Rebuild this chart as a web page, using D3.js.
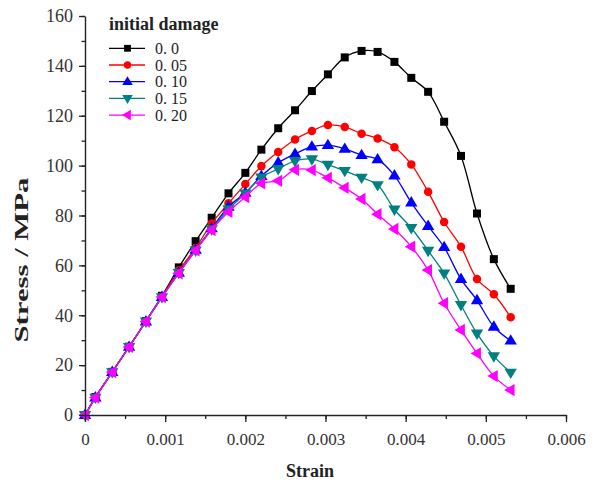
<!DOCTYPE html>
<html>
<head>
<meta charset="utf-8">
<script src="https://cdn.jsdelivr.net/npm/d3@7"></script>
<style>
  body { margin: 0; background: #fff; }
  svg text { font-family: "Liberation Serif", "DejaVu Serif", serif !important; fill: #222; }
</style>
</head>
<body>
<div id="chart"></div>
<script>
// strain values (same for every curve)
var strain = [0, 0.00013, 0.00034, 0.00055, 0.00076, 0.00096, 0.00117, 0.00138, 0.00158,
  0.00179, 0.00200, 0.00220, 0.00241, 0.00262, 0.00283, 0.00303, 0.00324, 0.00345,
  0.00365, 0.00386, 0.00407, 0.00428, 0.00448, 0.00469, 0.00489, 0.00510, 0.00531];

var damage0 = [0, 7.2, 17.3, 27.4, 37.7, 47.8, 59.2, 69.7, 79.1, 88.9, 97.1, 106.4, 115, 122.2,
  129.9, 136.6, 143.4, 146, 145.6, 141.6, 135.2, 129.6, 117.6, 103.9, 80.8, 62.5, 50.6];
var damage05 = [0, 7, 17.2, 27.3, 37.6, 47.5, 58, 67, 76.8, 84.9, 92.6, 99.8, 105.5, 110.5,
  113.9, 116.3, 115.5, 112.8, 110.9, 107.4, 100.5, 89.5, 77.4, 67.5, 54.5, 48.4, 39.2];
var damage10 = [0, 7, 17.2, 27.3, 37.5, 47.3, 57, 66.2, 74.8, 83.5, 89.1, 95.8, 101.2, 104.7,
  107.6, 108.2, 106.7, 104.2, 102.5, 96, 85.2, 75.8, 67.3, 54.5, 46, 35.4, 29.8];
var damage15 = [0, 7, 17.2, 27.3, 37.5, 47.3, 57, 66, 74.5, 82.5, 88.9, 95.3, 98.7, 101.9,
  102.6, 100.4, 97.9, 95.2, 92.2, 82.4, 75, 65.9, 56.8, 44.1, 32.7, 23.6, 17];
var damage20 = [0, 7, 17.2, 27.3, 37.5, 47.3, 56.8, 66, 74.2, 81.5, 87.4, 92.9, 93.9, 98.3,
  98.2, 95.1, 91.1, 86.6, 80.5, 74.6, 67.5, 58.1, 44.8, 34.1, 24.7, 15.6, 10];

var seriesNames = ["0. 0", "0. 05", "0. 10", "0. 15", "0. 20"];
var seriesValues = [damage0, damage05, damage10, damage15, damage20];
var seriesColors = ["#000000", "#ff0000", "#0000ff", "#008080", "#ff00ff"];
var seriesSymbols = ["square", "circle", "triUp", "triDown", "triLeft"];

var xTicks = [0, 0.001, 0.002, 0.003, 0.004, 0.005, 0.006];
var xTickLabels = ["0", "0.001", "0.002", "0.003", "0.004", "0.005", "0.006"];
var yTicks = [0, 20, 40, 60, 80, 100, 120, 140, 160];

var serif = "Liberation Serif";
var margin = {top: 16, left: 85},
    width = 481,
    height = 399;

var svg = d3.select("#chart").append("svg")
    .attr("width", 598)
    .attr("height", 482);

var g = svg.append("g")
    .attr("transform", "translate(" + margin.left + "," + margin.top + ")");

var x = d3.scaleLinear().domain([0, 0.006]).range([0, width]);
var y = d3.scaleLinear().domain([0, 160]).range([height, 0]);

// marker shapes
function symbolPath(type, s) {
  if (type == "square") return d3.symbol(d3.symbolSquare, s * s)();
  if (type == "circle") return d3.symbol(d3.symbolCircle, Math.PI * s * s / 4)();
  var r = s * 0.62;
  var pts;
  if (type == "triUp") pts = [[0, -r], [r * 0.95, r * 0.6], [-r * 0.95, r * 0.6]];
  if (type == "triDown") pts = [[0, r], [r * 0.95, -r * 0.6], [-r * 0.95, -r * 0.6]];
  if (type == "triLeft") pts = [[-r, 0], [r * 0.6, -r * 0.95], [r * 0.6, r * 0.95]];
  return "M" + pts.map(function(p) { return p.join(","); }).join("L") + "Z";
}
var symbolSize = {square: 8, circle: 8.5, triUp: 10.5, triDown: 10.5, triLeft: 10.5};

// curves
var line = d3.line()
    .x(function(d) { return x(d[0]); })
    .y(function(d) { return y(d[1]); })
    .curve(d3.curveCatmullRom.alpha(0.5));

seriesValues.forEach(function(vals, i) {
  var pts = strain.map(function(s, j) { return [s, vals[j]]; });
  g.append("path")
    .attr("d", line(pts))
    .attr("fill", "none")
    .attr("stroke", seriesColors[i])
    .attr("stroke-width", 1.3);
  g.selectAll(".m" + i)
    .data(pts)
    .enter().append("path")
    .attr("class", "m" + i)
    .attr("transform", function(d) { return "translate(" + x(d[0]) + "," + y(d[1]) + ")"; })
    .attr("d", symbolPath(seriesSymbols[i], symbolSize[seriesSymbols[i]]))
    .attr("fill", seriesColors[i]);
});

// x axis with minor ticks
var xMinor = d3.range(0, 0.00601, 0.0005);
g.append("g")
  .attr("transform", "translate(0," + height + ")")
  .call(d3.axisBottom(x).tickValues(xMinor).tickSize(4).tickFormat(""))
  .call(function(a) { a.select(".domain").remove(); })
  .selectAll("line").attr("stroke", "#222").attr("stroke-width", 1.3);

var xAxis = g.append("g")
  .attr("transform", "translate(0," + height + ")")
  .attr("font-family", serif)
  .call(d3.axisBottom(x).tickValues(xTicks).tickSizeInner(7).tickSizeOuter(0)
    .tickFormat(function(d, i) { return xTickLabels[i]; }));
xAxis.attr("font-family", serif).attr("font-size", 17);
xAxis.select(".domain").attr("stroke", "#222").attr("stroke-width", 1.4);
xAxis.selectAll("line").attr("stroke", "#222").attr("stroke-width", 1.3);
xAxis.selectAll("text").attr("dy", "0").attr("y", 30)
  .style("font-family", serif).style("font-size", "17px").style("fill", "#333");

// y axis with minor ticks
var yMinor = d3.range(0, 161, 10);
g.append("g")
  .call(d3.axisLeft(y).tickValues(yMinor).tickSize(3.5).tickFormat(""))
  .call(function(a) { a.select(".domain").remove(); })
  .selectAll("line").attr("stroke", "#222").attr("stroke-width", 1.3);

var yAxis = g.append("g")
  .call(d3.axisLeft(y).tickValues(yTicks).tickSizeInner(6).tickSizeOuter(0).tickPadding(6));
yAxis.attr("font-family", serif).attr("font-size", 18);
yAxis.select(".domain").attr("stroke", "#222").attr("stroke-width", 1.4);
yAxis.selectAll("line").attr("stroke", "#222").attr("stroke-width", 1.3);
yAxis.selectAll("text")
  .style("font-family", serif).style("font-size", "18px").style("fill", "#333");

// axis titles
svg.append("text")
  .attr("x", 310).attr("y", 477)
  .attr("text-anchor", "middle")
  .attr("font-size", "18px").attr("font-weight", "bold")
  .text("Strain");

svg.append("text")
  .attr("transform", "translate(28,260) rotate(-90)")
  .attr("text-anchor", "middle")
  .attr("font-size", "19px").attr("font-weight", "bold")
  .attr("textLength", 165).attr("lengthAdjust", "spacingAndGlyphs")
  .text("Stress / MPa");

// legend
var legend = svg.append("g").attr("transform", "translate(109,0)");
legend.append("text")
  .attr("x", 0).attr("y", 30)
  .attr("font-size", "18px").attr("font-weight", "bold")
  .text("initial damage");

seriesNames.forEach(function(name, i) {
  var ly = 48.3 + i * 16.7;
  legend.append("line")
    .attr("x1", 0).attr("x2", 36).attr("y1", ly).attr("y2", ly)
    .attr("stroke", seriesColors[i]).attr("stroke-width", 1.3);
  legend.append("path")
    .attr("transform", "translate(18.5," + ly + ")")
    .attr("d", symbolPath(seriesSymbols[i], symbolSize[seriesSymbols[i]] * 0.85))
    .attr("fill", seriesColors[i]);
  legend.append("text")
    .attr("x", 46).attr("y", ly + 5.5)
    .attr("font-size", "16px")
    .text(name);
});
</script>
</body>
</html>
